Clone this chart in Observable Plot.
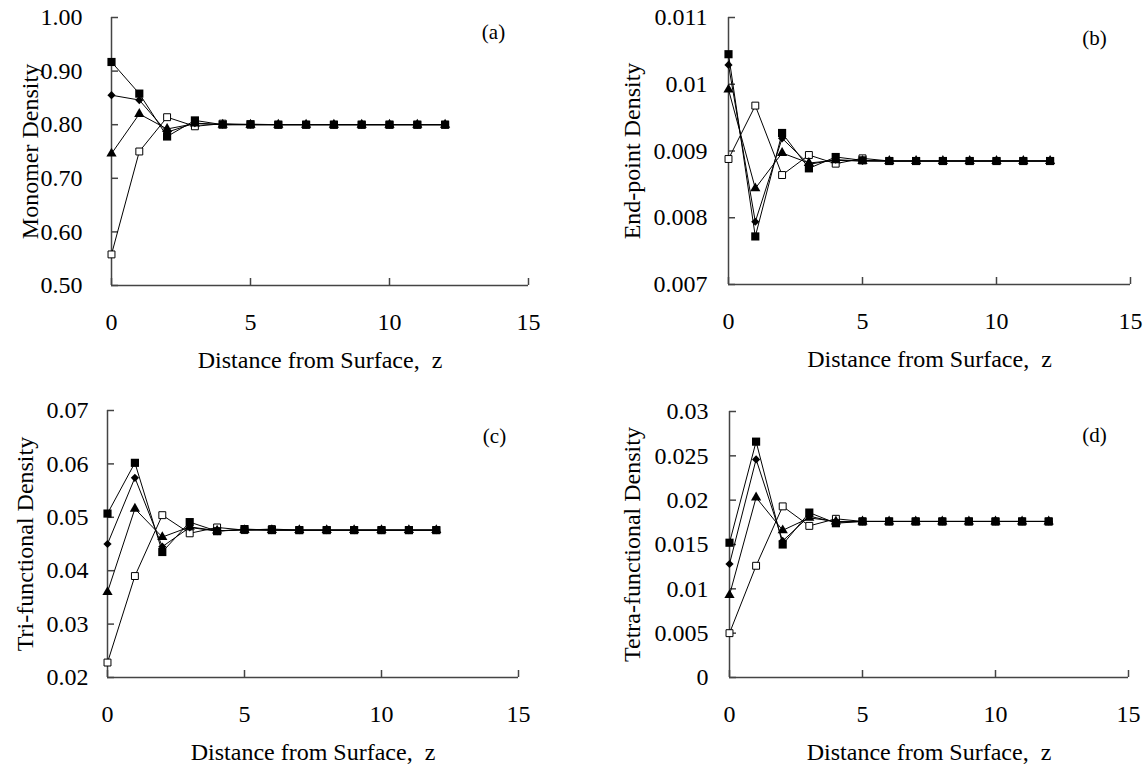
<!DOCTYPE html>
<html><head><meta charset="utf-8">
<script src="https://cdn.jsdelivr.net/npm/d3@7"></script>
<script src="https://cdn.jsdelivr.net/npm/@observablehq/plot@0.6"></script>
<style>
html,body{margin:0;padding:0;background:#fff;}
#wrap{position:relative;width:1146px;height:767px;overflow:hidden;background:#fff;}
#wrap svg{position:absolute;left:0;top:0;}
</style></head><body><div id="wrap"></div>
<script>
// distance from surface
const zValues = [0, 1, 2, 3, 4, 5, 6, 7, 8, 9, 10, 11, 12];
const xTicks = [0, 5, 10, 15];
const xTitle = "Distance from Surface,\u00a0 z";
const seriesNames = ["filledSquare", "filledDiamond", "filledTriangle", "openSquare"];

// (a) Monomer density
const aTitle = "Monomer Density";
const aTicks = [0.5, 0.6, 0.7, 0.8, 0.9, 1.0];
const aTickLabels = ["0.50", "0.60", "0.70", "0.80", "0.90", "1.00"];
const aFilledSquare   = [0.917, 0.858, 0.778, 0.808, 0.800, 0.801, 0.800, 0.800, 0.800, 0.800, 0.800, 0.800, 0.800];
const aFilledDiamond  = [0.855, 0.846, 0.786, 0.803, 0.800, 0.800, 0.800, 0.800, 0.800, 0.800, 0.800, 0.800, 0.800];
const aFilledTriangle = [0.746, 0.820, 0.792, 0.802, 0.800, 0.800, 0.800, 0.800, 0.800, 0.800, 0.800, 0.800, 0.800];
const aOpenSquare     = [0.558, 0.750, 0.814, 0.797, 0.802, 0.800, 0.800, 0.800, 0.800, 0.800, 0.800, 0.800, 0.800];

// (b) End-point density
const bTitle = "End-point Density";
const bTicks = [0.007, 0.008, 0.009, 0.010, 0.011];
const bTickLabels = ["0.007", "0.008", "0.009", "0.01", "0.011"];
const bFilledSquare   = [0.01045, 0.00772, 0.00927, 0.00874, 0.00891, 0.00886, 0.00885, 0.00885, 0.00885, 0.00885, 0.00885, 0.00885, 0.00885];
const bFilledDiamond  = [0.01029, 0.00794, 0.00919, 0.00880, 0.00887, 0.00885, 0.00885, 0.00885, 0.00885, 0.00885, 0.00885, 0.00885, 0.00885];
const bFilledTriangle = [0.00992, 0.00844, 0.00897, 0.00882, 0.00886, 0.00885, 0.00885, 0.00885, 0.00885, 0.00885, 0.00885, 0.00885, 0.00885];
const bOpenSquare     = [0.00888, 0.00968, 0.00864, 0.00894, 0.00881, 0.00889, 0.00885, 0.00885, 0.00885, 0.00885, 0.00885, 0.00885, 0.00885];

// (c) Tri-functional density
const cTitle = "Tri-functional Density";
const cTicks = [0.02, 0.03, 0.04, 0.05, 0.06, 0.07];
const cTickLabels = ["0.02", "0.03", "0.04", "0.05", "0.06", "0.07"];
const cFilledSquare   = [0.0507, 0.0602, 0.0435, 0.0491, 0.0474, 0.0478, 0.0476, 0.0476, 0.0476, 0.0476, 0.0476, 0.0476, 0.0476];
const cFilledDiamond  = [0.0450, 0.0574, 0.0445, 0.0481, 0.0474, 0.0477, 0.0476, 0.0476, 0.0476, 0.0476, 0.0476, 0.0476, 0.0476];
const cFilledTriangle = [0.0360, 0.0516, 0.0463, 0.0482, 0.0475, 0.0476, 0.0476, 0.0476, 0.0476, 0.0476, 0.0476, 0.0476, 0.0476];
const cOpenSquare     = [0.0228, 0.0390, 0.0504, 0.0470, 0.0481, 0.0476, 0.0478, 0.0476, 0.0476, 0.0476, 0.0476, 0.0476, 0.0476];

// (d) Tetra-functional density
const dTitle = "Tetra-functional Density";
const dTicks = [0, 0.005, 0.01, 0.015, 0.02, 0.025, 0.03];
const dTickLabels = ["0", "0.005", "0.01", "0.015", "0.02", "0.025", "0.03"];
const dFilledSquare   = [0.0152, 0.0266, 0.0150, 0.0186, 0.0174, 0.0176, 0.0176, 0.0176, 0.0176, 0.0176, 0.0176, 0.0176, 0.0176];
const dFilledDiamond  = [0.0128, 0.0246, 0.0154, 0.0182, 0.0175, 0.0176, 0.0176, 0.0176, 0.0176, 0.0176, 0.0176, 0.0176, 0.0176];
const dFilledTriangle = [0.0093, 0.0203, 0.0166, 0.0180, 0.0176, 0.0176, 0.0176, 0.0176, 0.0176, 0.0176, 0.0176, 0.0176, 0.0176];
const dOpenSquare     = [0.0050, 0.0126, 0.0193, 0.0171, 0.0179, 0.0176, 0.0176, 0.0176, 0.0176, 0.0176, 0.0176, 0.0176, 0.0176];

const FONT = "'Liberation Serif', 'Times New Roman', Times, serif";
const AX = "#444";
const FS = 24;

function panel(p) {
  const data = [];
  p.series.forEach((vals, si) => vals.forEach((v, i) => data.push({z: zValues[i], v, s: seriesNames[si]})));
  const of = name => data.filter(d => d.s === name);
  return Plot.plot({
    width: 1146, height: 767,
    marginLeft: p.mL, marginRight: p.mR, marginTop: p.mT, marginBottom: p.mB,
    x: {domain: [0, 15]},
    y: {domain: [p.ticks[0], p.ticks[p.ticks.length - 1]]},
    style: {fontFamily: FONT, fontSize: FS + "px", color: "black", background: "transparent", overflow: "visible"},
    marks: [
      Plot.ruleX([xTicks[0]], {stroke: AX, strokeWidth: 1.5}),
      Plot.ruleY([p.ticks[0]], {stroke: AX, strokeWidth: 1.5}),
      Plot.axisY({ticks: p.ticks, tickSize: 7, dx: 7, tickFormat: () => "", stroke: AX, strokeWidth: 1.5, label: null}),
      Plot.axisY({ticks: p.ticks, tickSize: 0, tickPadding: p.pad, tickFormat: d => p.labels[p.ticks.indexOf(d)], label: null, fill: "black", fontSize: FS}),
      Plot.axisX({ticks: xTicks, tickSize: 7, dy: -7, tickFormat: () => "", stroke: AX, strokeWidth: 1.5, label: null}),
      Plot.axisX({ticks: xTicks, tickSize: 0, tickPadding: 27, label: null, fill: "black", fontSize: FS}),
      Plot.line(data, {x: "z", y: "v", z: "s", stroke: "black", strokeWidth: 1}),
      Plot.dot(of("openSquare"), {x: "z", y: "v", symbol: "square", r: 3.9, fill: "white", stroke: "black", strokeWidth: 1}),
      Plot.dot(of("filledTriangle"), {x: "z", y: "v", symbol: "triangle", r: 3.8, fill: "black"}),
      Plot.dot(of("filledDiamond"), {x: "z", y: "v", symbol: "diamond2", r: 3.7, fill: "black"}),
      Plot.dot(of("filledSquare"), {x: "z", y: "v", symbol: "square", r: 4.6, fill: "black"}),
      Plot.text([p.title], {frameAnchor: "left", textAnchor: "middle", lineAnchor: "middle", rotate: -90, dx: p.tdx, fontSize: FS, fill: "black"}),
      Plot.text([xTitle], {frameAnchor: "bottom", textAnchor: "middle", lineAnchor: "middle", dy: 75, fontSize: FS, fill: "black"}),
      Plot.text([p.letter], {frameAnchor: "top-right", textAnchor: "middle", lineAnchor: "middle", dx: p.ldx, dy: p.ldy, fontSize: 21, fill: "black"})
    ]
  });
}

const wrap = document.getElementById("wrap");
wrap.appendChild(panel({series: [aFilledSquare, aFilledDiamond, aFilledTriangle, aOpenSquare], ticks: aTicks, labels: aTickLabels, title: aTitle, letter: "(a)",
  mL: 111, mR: 618, mT: 17, mB: 482, pad: 29, tdx: -81, ldx: -35, ldy: 15}));
wrap.appendChild(panel({series: [bFilledSquare, bFilledDiamond, bFilledTriangle, bOpenSquare], ticks: bTicks, labels: bTickLabels, title: bTitle, letter: "(b)",
  mL: 728, mR: 16, mT: 17, mB: 483, pad: 21, tdx: -96, ldx: -36, ldy: 21}));
wrap.appendChild(panel({series: [cFilledSquare, cFilledDiamond, cFilledTriangle, cOpenSquare], ticks: cTicks, labels: cTickLabels, title: cTitle, letter: "(c)",
  mL: 107, mR: 628, mT: 410, mB: 90, pad: 19, tdx: -82, ldx: -24, ldy: 26}));
wrap.appendChild(panel({series: [dFilledSquare, dFilledDiamond, dFilledTriangle, dOpenSquare], ticks: dTicks, labels: dTickLabels, title: dTitle, letter: "(d)",
  mL: 729, mR: 18, mT: 411, mB: 90, pad: 21, tdx: -97, ldx: -34, ldy: 24}));
</script></body></html>
